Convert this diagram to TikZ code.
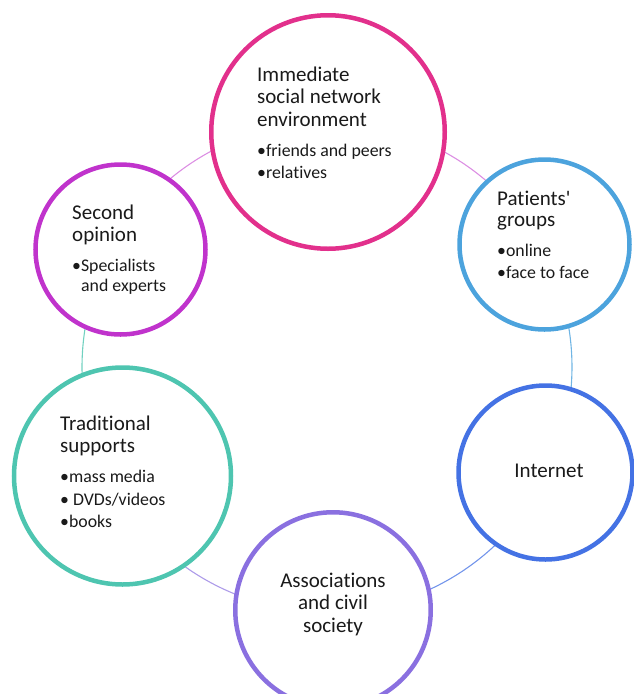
\documentclass[tikz,border=0pt]{standalone}
\usepackage{fontspec}
\setmainfont{Carlito}[Ligatures={TeXOff,NoCommon}]
\definecolor{cPink}{HTML}{E2308C}
\definecolor{cSky}{HTML}{4CA3DD}
\definecolor{cBlue}{HTML}{4472E4}
\definecolor{cLav}{HTML}{8A70E0}
\definecolor{cTeal}{HTML}{4EC5B0}
\definecolor{cMag}{HTML}{C033CC}
\definecolor{txt}{HTML}{1A1A1A}
\begin{document}
\begin{tikzpicture}[x=1pt,y=-1pt]
\tikzset{
  bubble/.style={circle, fill=white, line width=4.5pt, inner sep=0pt},
  ttl/.style={anchor=base west, inner sep=0pt, text=txt, font=\fontsize{21}{22.5}\selectfont},
  ttlc/.style={ttl, anchor=base},
  bul/.style={anchor=base west, inner sep=0pt, text=txt, font=\fontsize{17.8}{20}\selectfont},
  link/.style={line width=1.1pt}
}
\useasboundingbox (0,0) rectangle (633,694);

% thin cycle ring behind the bubbles
\coordinate (ring) at (327,367);
\draw[link, cMag!55] (ring) ++(-89.8:245) arc[start angle=-89.8, end angle=-29.2, radius=245];
\draw[link, cSky!80] (ring) ++(-29.2:245) arc[start angle=-29.2, end angle=25.7, radius=245];
\draw[link, cBlue!75] (ring) ++(25.7:245) arc[start angle=25.7, end angle=88.6, radius=245];
\draw[link, cLav!70] (ring) ++(88.6:245) arc[start angle=88.6, end angle=152, radius=245];
\draw[link, cTeal!80] (ring) ++(152:245) arc[start angle=152, end angle=209.7, radius=245];
\draw[link, cMag!55] (ring) ++(209.7:245) arc[start angle=209.7, end angle=270.2, radius=245];

% bubbles
\node[bubble, draw=cPink, minimum size=233.5pt] (imm) at (328,132) {};
\node[bubble, draw=cSky,  minimum size=170pt]   (pat) at (544.5,244.5) {};
\node[bubble, draw=cBlue, minimum size=174pt]   (int) at (545.5,472.5) {};
\node[bubble, draw=cLav,  minimum size=195.5pt] (ass) at (333,610) {};
\node[bubble, draw=cTeal, minimum size=217pt]   (tra) at (122.5,476) {};
\node[bubble, draw=cMag,  minimum size=170pt]   (sec) at (120.5,249.5) {};

% Immediate social network environment
\node[ttl] (imm1) at (257,81) {Immediate};
\node[ttl] (imm2) at (257,103.5) {social network};
\node[ttl] (imm3) at (257,126) {environment};
\node[bul] (imm4) at (257,156) {•friends and peers};
\node[bul] (imm5) at (257,178.5) {•relatives};

% Patients' groups
\node[ttl] (pat1) at (497,205) {Patients'};
\node[ttl] (pat2) at (497,226) {groups};
\node[bul] (pat3) at (497,256) {•online};
\node[bul] (pat4) at (497,278) {•face to face};

% Internet
\node[ttlc] (int1) at (549,477) {Internet};

% Associations and civil society
\node[ttlc] (ass1) at (333,587) {Associations};
\node[ttlc] (ass2) at (333,609.5) {and civil};
\node[ttlc] (ass3) at (333,632) {society};

% Traditional supports
\node[ttl] (tra1) at (60,430.5) {Traditional};
\node[ttl] (tra2) at (60,452.5) {supports};
\node[bul] (tra3) at (60,482) {•mass media};
\node[bul] (tra4) at (60,505) {• DVDs/videos};
\node[bul] (tra5) at (60,527) {•books};

% Second opinion
\node[ttl] (sec1) at (72,219) {Second};
\node[ttl] (sec2) at (72,241.5) {opinion};
\node[bul] (sec3) at (72,271.5) {•Specialists};
\node[bul] (sec4) at (81,291) {and experts};
\end{tikzpicture}
\end{document}
